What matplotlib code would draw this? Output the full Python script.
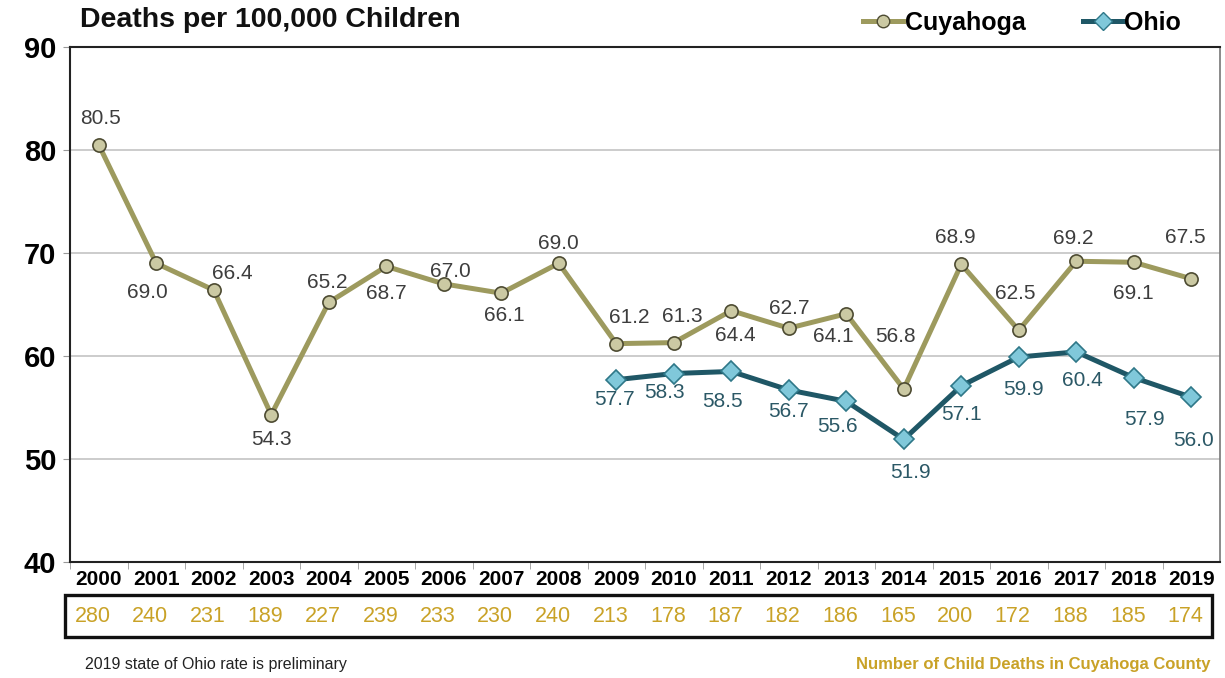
import matplotlib
matplotlib.use("Agg")
import matplotlib.pyplot as plt
from matplotlib.patches import Rectangle
from matplotlib.lines import Line2D

years = ["2000", "2001", "2002", "2003", "2004", "2005", "2006", "2007", "2008", "2009",
         "2010", "2011", "2012", "2013", "2014", "2015", "2016", "2017", "2018", "2019"]
cuyahoga = [80.5, 69.0, 66.4, 54.3, 65.2, 68.7, 67.0, 66.1, 69.0, 61.2,
            61.3, 64.4, 62.7, 64.1, 56.8, 68.9, 62.5, 69.2, 69.1, 67.5]
ohio_years = ["2009", "2010", "2011", "2012", "2013", "2014", "2015", "2016", "2017", "2018", "2019"]
ohio = [57.7, 58.3, 58.5, 56.7, 55.6, 51.9, 57.1, 59.9, 60.4, 57.9, 56.0]
child_deaths = [280, 240, 231, 189, 227, 239, 233, 230, 240, 213,
                178, 187, 182, 186, 165, 200, 172, 188, 185, 174]

# label offsets in pixels (dx, dy; dy positive = downwards)
cuy_dx = [2, -9, 19, 0, -2, 0, 7, 3, 0, 13, 9, 4, 0, -13, -8, -6, -3, -3, 0, -6]
cuy_dy = [-26, 29, -17, 25, -20, 27, -12, 22, -20, -26, -26, 25, -20, 23, -52, -27, -37, -23, 31, -41]
ohio_dx = [-2, -9, -9, 0, -9, 7, 0, 5, 6, 11, 2]
ohio_dy = [20, 19, 30, 22, 25, 33, 29, 32, 29, 42, 43]

cuy_line = "#9d9a5e"
cuy_face = "#cbc9a3"
cuy_edge = "#4d4b32"
ohio_line = "#1f5766"
ohio_face = "#80c8da"
ohio_edge = "#2e7788"
gold = "#c9a227"

plt.rcParams["font.family"] = ["Liberation Sans", "DejaVu Sans"]

fig = plt.figure(figsize=(12.25, 6.78), dpi=100)
W, H = 1225, 678
L, R, T, B = 70, 1220, 47, 562
ax = fig.add_axes([L / W, 1 - B / H, (R - L) / W, (B - T) / H])

x = list(range(len(years)))
xo = [years.index(y) for y in ohio_years]
px = 0.72  # pixels -> points

ax.plot(x, cuyahoga, color=cuy_line, linewidth=3.6, marker="o", markersize=9.5,
        markerfacecolor=cuy_face, markeredgecolor=cuy_edge, markeredgewidth=1.2, zorder=3)
ax.plot(xo, ohio, color=ohio_line, linewidth=3.6, marker="D", markersize=10,
        markerfacecolor=ohio_face, markeredgecolor=ohio_edge, markeredgewidth=1.2, zorder=4)

for i, v in enumerate(cuyahoga):
    ax.annotate(f"{v:.1f}", (x[i], v), xytext=(cuy_dx[i] * px, -cuy_dy[i] * px),
                textcoords="offset points", ha="center", va="center",
                fontsize=15, color="#3d3d3d", zorder=5)
for i, v in enumerate(ohio):
    ax.annotate(f"{v:.1f}", (xo[i], v), xytext=(ohio_dx[i] * px, -ohio_dy[i] * px),
                textcoords="offset points", ha="center", va="center",
                fontsize=15, color="#2b5866", zorder=5)

ax.set_ylim(40, 90)
ax.set_xlim(-0.5, 19.5)
ax.set_yticks([40, 50, 60, 70, 80, 90])
ax.set_xticks(x)
ax.set_xticklabels(years, fontsize=15, fontweight="bold")
ax.set_xticks([i - 0.5 for i in x], minor=True)
ax.tick_params(axis="x", which="major", length=0, pad=6)
ax.tick_params(axis="x", which="minor", length=5, color="#999999", direction="out")
ax.tick_params(axis="y", length=5, color="#999999", pad=5, labelsize=21)
for lab in ax.get_yticklabels():
    lab.set_fontweight("bold")

ax.grid(axis="y", color="#c4c4c4", linewidth=1.2)
ax.set_axisbelow(True)
for s in ["left", "bottom", "top"]:
    ax.spines[s].set_color("#222222")
    ax.spines[s].set_linewidth(1.5)
ax.spines["right"].set_color("#777777")
ax.spines["right"].set_linewidth(1.2)

# table of child death counts (box in axes fraction)
aw, ah = R - L, B - T
ax.add_patch(Rectangle(((65 - L) / aw, (B - 637) / ah), (1212 - 65) / aw, (637 - 595) / ah,
                       transform=ax.transAxes, fill=False, edgecolor="#111111",
                       linewidth=2.4, clip_on=False))
for i, n in enumerate(child_deaths):
    ax.annotate(str(n), (x[i], 0), xycoords=("data", "axes fraction"),
                xytext=(-6 * px, -55 * px), textcoords="offset points",
                ha="center", va="center", fontsize=15.5, color=gold)

fig.text(80 / W, 1 - 20 / H, "Deaths per 100,000 Children", fontsize=20.5,
         fontweight="bold", va="center", ha="left", color="#111111")

handles = [Line2D([], [], color=cuy_line, linewidth=3.6, marker="o", markersize=9,
                  markerfacecolor=cuy_face, markeredgecolor=cuy_edge),
           Line2D([], [], color=ohio_line, linewidth=3.6, marker="D", markersize=9,
                  markerfacecolor=ohio_face, markeredgecolor=ohio_edge)]
fig.legend(handles, ["Cuyahoga", "Ohio"], loc="center right",
           bbox_to_anchor=(1181 / W, 1 - 23 / H), ncol=2, frameon=False,
           prop={"weight": "bold", "size": 18}, handlelength=1.6, handletextpad=0.05,
           columnspacing=2.3, borderaxespad=0, borderpad=0)

fig.text(85 / W, 1 - 665 / H, "2019 state of Ohio rate is preliminary", fontsize=11.5,
         color="#222222", va="center", ha="left")
fig.text(1210 / W, 1 - 665 / H, "Number of Child Deaths in Cuyahoga County", fontsize=12,
         fontweight="bold", color=gold, va="center", ha="right")

fig.savefig("out.png", dpi=100)
